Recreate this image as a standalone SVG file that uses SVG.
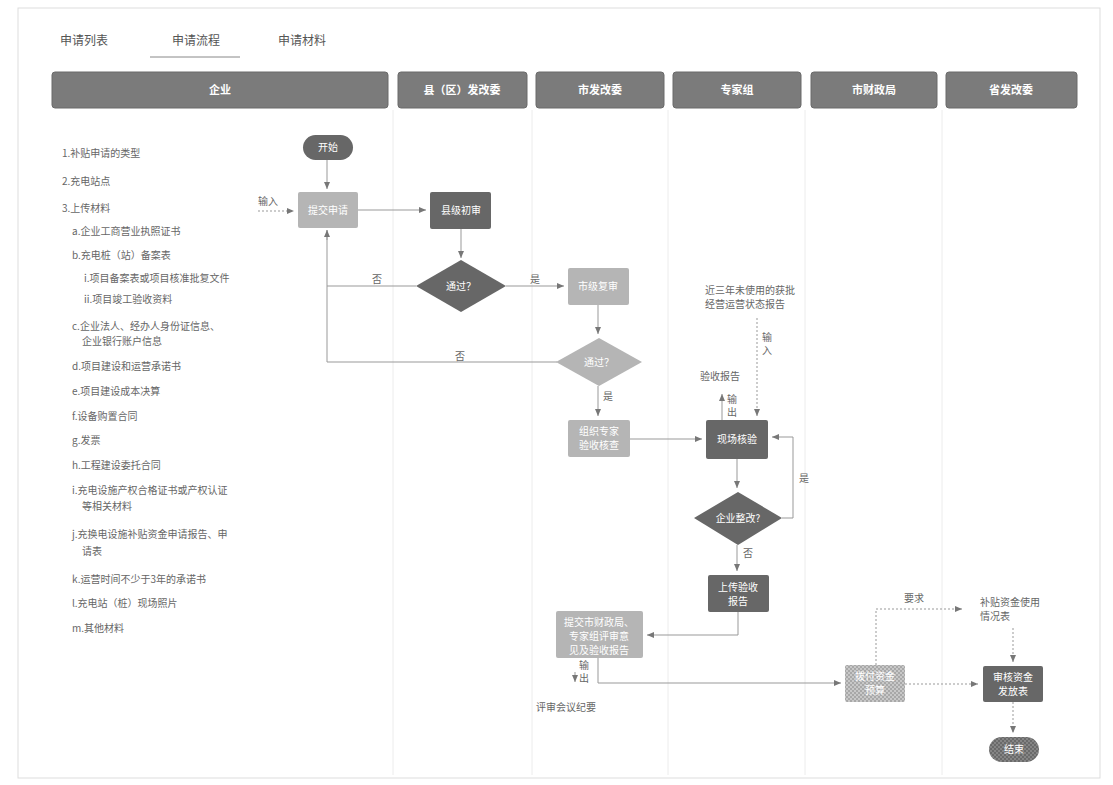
<svg xmlns="http://www.w3.org/2000/svg" width="1113" height="785" viewBox="0 0 1113 785">
<defs>
<marker id="ah" markerWidth="8" markerHeight="8" refX="7" refY="4" orient="auto" markerUnits="userSpaceOnUse">
<path d="M0,1 L7,4 L0,7 Z" fill="#777"/>
</marker>
<pattern id="chk" width="4" height="4" patternUnits="userSpaceOnUse">
<rect width="4" height="4" fill="#a8a8a8"/><rect width="2" height="2" fill="#c8c8c8"/><rect x="2" y="2" width="2" height="2" fill="#c8c8c8"/>
</pattern>
<pattern id="chkd" width="4" height="4" patternUnits="userSpaceOnUse">
<rect width="4" height="4" fill="#6a6a6a"/><rect width="2" height="2" fill="#858585"/><rect x="2" y="2" width="2" height="2" fill="#858585"/>
</pattern>
</defs>
<style>
text{font-family:"Noto Sans CJK SC","Liberation Sans",sans-serif}
.tab{font-size:12px;fill:#555}
.hdr{fill:#7b7b7b;stroke:#6a6a6a;stroke-width:1}
.ht{font-size:11px;fill:#fff;font-weight:bold;text-anchor:middle}
.li{font-size:10px;fill:#666}
.dark{fill:#676767}
.light{fill:#b5b5b5}
.nt{font-size:10px;fill:#fff;text-anchor:middle}
.lbl{font-size:10px;fill:#666}
.ln{fill:none;stroke:#999;stroke-width:1}
.dot{fill:none;stroke:#999;stroke-width:1;stroke-dasharray:2,2}
.lane{stroke:#ececec;stroke-width:1}
</style>
<rect x="0" y="0" width="1113" height="785" fill="#fff"/>
<rect x="18" y="8" width="1082" height="770" fill="none" stroke="#ddd"/>
<g id="tabs">
<text class="tab" x="60" y="45">申请列表</text>
<text class="tab" x="172" y="45">申请流程</text>
<text class="tab" x="278" y="45">申请材料</text>
<line x1="150" y1="57" x2="240" y2="57" stroke="#888" stroke-width="1"/>
</g>
<g id="lanes">
<line class="lane" x1="393" y1="110" x2="393" y2="775"/>
<line class="lane" x1="532" y1="110" x2="532" y2="775"/>
<line class="lane" x1="668" y1="110" x2="668" y2="775"/>
<line class="lane" x1="805" y1="110" x2="805" y2="775"/>
<line class="lane" x1="942" y1="110" x2="942" y2="775"/>
</g>
<g id="headers">
<rect class="hdr" x="52" y="72" width="336" height="36" rx="3"/><text class="ht" x="220" y="94">企业</text>
<rect class="hdr" x="398" y="72" width="129" height="36" rx="3"/><text class="ht" x="462" y="94">县（区）发改委</text>
<rect class="hdr" x="536" y="72" width="128" height="36" rx="3"/><text class="ht" x="600" y="94">市发改委</text>
<rect class="hdr" x="673" y="72" width="128" height="36" rx="3"/><text class="ht" x="737" y="94">专家组</text>
<rect class="hdr" x="811" y="72" width="126" height="36" rx="3"/><text class="ht" x="874" y="94">市财政局</text>
<rect class="hdr" x="946" y="72" width="131" height="36" rx="3"/><text class="ht" x="1011" y="94">省发改委</text>
</g>
<g id="list">
<text class="li" x="62" y="157">1.补贴申请的类型</text>
<text class="li" x="62" y="185">2.充电站点</text>
<text class="li" x="62" y="212">3.上传材料</text>
<text class="li" x="72" y="235">a.企业工商营业执照证书</text>
<text class="li" x="72" y="259">b.充电桩（站）备案表</text>
<text class="li" x="84" y="282">i.项目备案表或项目核准批复文件</text>
<text class="li" x="84" y="303">ii.项目竣工验收资料</text>
<text class="li" x="72" y="330">c.企业法人、经办人身份证信息、</text>
<text class="li" x="82" y="345">企业银行账户信息</text>
<text class="li" x="72" y="370">d.项目建设和运营承诺书</text>
<text class="li" x="72" y="395">e.项目建设成本决算</text>
<text class="li" x="72" y="420">f.设备购置合同</text>
<text class="li" x="72" y="444">g.发票</text>
<text class="li" x="72" y="469">h.工程建设委托合同</text>
<text class="li" x="72" y="494">i.充电设施产权合格证书或产权认证</text>
<text class="li" x="82" y="510">等相关材料</text>
<text class="li" x="72" y="538">j.充换电设施补贴资金申请报告、申</text>
<text class="li" x="82" y="555">请表</text>
<text class="li" x="72" y="583">k.运营时间不少于3年的承诺书</text>
<text class="li" x="72" y="607">l.充电站（桩）现场照片</text>
<text class="li" x="72" y="632">m.其他材料</text>
</g>
<g id="connectors">
<line class="ln" x1="327" y1="160" x2="327" y2="189" marker-end="url(#ah)"/>
<line class="dot" x1="258" y1="211" x2="294" y2="211" marker-end="url(#ah)"/>
<line class="ln" x1="358" y1="210" x2="426" y2="210" marker-end="url(#ah)"/>
<line class="ln" x1="461" y1="229" x2="461" y2="258" marker-end="url(#ah)"/>
<polyline class="ln" points="416,286 327,286 327,230"/>
<polyline class="ln" points="557,362 327,362 327,286"/>
<line class="ln" x1="327" y1="240" x2="327" y2="230" marker-end="url(#ah)"/>
<line class="ln" x1="506" y1="286" x2="564" y2="286" marker-end="url(#ah)"/>
<line class="ln" x1="598" y1="305" x2="598" y2="334" marker-end="url(#ah)"/>
<line class="ln" x1="598" y1="386" x2="598" y2="416" marker-end="url(#ah)"/>
<line class="ln" x1="630" y1="439" x2="702" y2="439" marker-end="url(#ah)"/>
<line class="dot" x1="757" y1="318" x2="757" y2="416" marker-end="url(#ah)"/>
<line class="ln" x1="722" y1="420" x2="722" y2="394" marker-end="url(#ah)"/>
<line class="ln" x1="737" y1="459" x2="737" y2="488" marker-end="url(#ah)"/>
<polyline class="ln" points="782,518 793,518 793,437"/>
<line class="ln" x1="793" y1="437" x2="772" y2="437" marker-end="url(#ah)"/>
<line class="ln" x1="737" y1="545" x2="737" y2="571" marker-end="url(#ah)"/>
<polyline class="ln" points="738,612 738,635 660,635"/>
<line class="ln" x1="660" y1="635" x2="647" y2="635" marker-end="url(#ah)"/>
<polyline class="ln" points="598,658 598,683 820,683"/>
<line class="ln" x1="820" y1="683" x2="841" y2="683" marker-end="url(#ah)"/>
<line class="ln" x1="575" y1="672" x2="575" y2="682" marker-end="url(#ah)"/>
<polyline class="dot" points="876,665 876,609 940,609"/>
<line class="dot" x1="940" y1="609" x2="962" y2="609" marker-end="url(#ah)"/>
<line class="dot" x1="905" y1="684" x2="978" y2="684" marker-end="url(#ah)"/>
<line class="dot" x1="1013" y1="628" x2="1013" y2="662" marker-end="url(#ah)"/>
<line class="dot" x1="1013" y1="702" x2="1013" y2="733" marker-end="url(#ah)"/>
</g>
<g id="labels">
<text class="lbl" x="258" y="205">输入</text>
<text class="lbl" x="372" y="283">否</text>
<text class="lbl" x="530" y="283">是</text>
<text class="lbl" x="455" y="360">否</text>
<text class="lbl" x="603" y="400">是</text>
<text class="lbl" x="700" y="380">验收报告</text>
<text class="lbl" x="727" y="403">输</text>
<text class="lbl" x="727" y="416">出</text>
<text class="lbl" x="762" y="341">输</text>
<text class="lbl" x="762" y="354">入</text>
<text class="lbl" x="705" y="294">近三年未使用的获批</text>
<text class="lbl" x="705" y="308">经营运营状态报告</text>
<text class="lbl" x="799" y="482">是</text>
<text class="lbl" x="743" y="557">否</text>
<text class="lbl" x="579" y="669">输</text>
<text class="lbl" x="579" y="682">出</text>
<text class="lbl" x="536" y="711">评审会议纪要</text>
<text class="lbl" x="904" y="602">要求</text>
<text class="lbl" x="980" y="606">补贴资金使用</text>
<text class="lbl" x="980" y="620">情况表</text>
</g>
<g id="n-start"><rect class="dark" x="303" y="135" width="50" height="25" rx="12.5"/><text class="nt" x="328" y="151">开始</text></g>
<g id="n-submit"><rect class="light" x="298" y="192" width="60" height="36" rx="2"/><text class="nt" x="328" y="214">提交申请</text></g>
<g id="n-county"><rect class="dark" x="430" y="192" width="61" height="37" rx="2"/><text class="nt" x="461" y="214">县级初审</text></g>
<g id="n-pass1"><polygon class="dark" points="461,260 506,286 461,312 416,286"/><text class="nt" x="461" y="290">通过？</text></g>
<g id="n-city"><rect class="light" x="568" y="268" width="61" height="37" rx="2"/><text class="nt" x="598" y="290">市级复审</text></g>
<g id="n-pass2"><polygon class="light" points="599,338 642,362 599,386 556,362"/><text class="nt" x="599" y="366">通过？</text></g>
<g id="n-expert"><rect class="light" x="568" y="420" width="62" height="37" rx="2"/><text class="nt" x="599" y="435">组织专家</text><text class="nt" x="599" y="449">验收核查</text></g>
<g id="n-check"><rect class="dark" x="706" y="420" width="62" height="39" rx="2"/><text class="nt" x="737" y="443">现场核验</text></g>
<g id="n-fix"><polygon class="dark" points="738,492 782,518 738,545 694,518"/><text class="nt" x="738" y="522">企业整改?</text></g>
<g id="n-upload"><rect class="dark" x="708" y="575" width="61" height="37" rx="2"/><text class="nt" x="738" y="591">上传验收</text><text class="nt" x="738" y="605">报告</text></g>
<g id="n-review"><rect class="light" x="556" y="611" width="87" height="47" rx="2"/><text class="nt" x="599" y="626">提交市财政局、</text><text class="nt" x="599" y="640">专家组评审意</text><text class="nt" x="599" y="654">见及验收报告</text></g>
<g id="n-fund"><rect x="845" y="665" width="60" height="37" rx="2" fill="url(#chk)"/><text class="nt" x="875" y="680">拨付资金</text><text class="nt" x="875" y="694">预算</text></g>
<g id="n-prov"><rect class="dark" x="983" y="666" width="60" height="36" rx="2"/><text class="nt" x="1013" y="681">审核资金</text><text class="nt" x="1013" y="695">发放表</text></g>
<g id="n-end"><rect x="989" y="737" width="50" height="25" rx="12.5" fill="url(#chkd)"/><text class="nt" x="1014" y="753">结束</text></g>
</svg>
